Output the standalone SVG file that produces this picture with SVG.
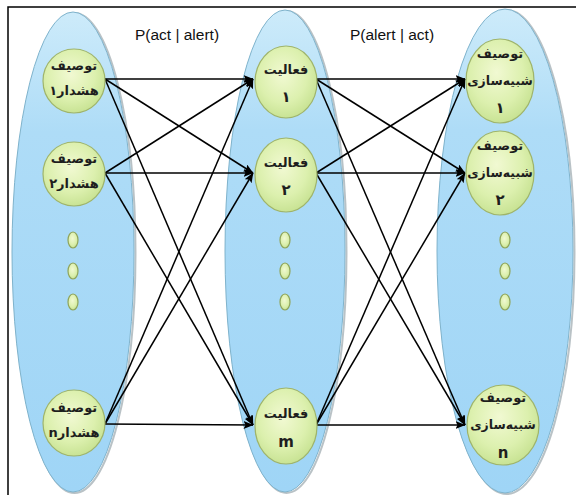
<svg xmlns="http://www.w3.org/2000/svg" width="576" height="495" viewBox="0 0 576 495">
  <defs>
    <linearGradient id="setFill" x1="0" y1="0" x2="0" y2="1">
      <stop offset="0" stop-color="#cdebfa"/>
      <stop offset="0.25" stop-color="#aedcf7"/>
      <stop offset="1" stop-color="#9fd5f6"/>
    </linearGradient>
    <radialGradient id="nodeFill" cx="0.45" cy="0.4" r="0.65">
      <stop offset="0" stop-color="#f1f9d2"/>
      <stop offset="0.6" stop-color="#dcf0ae"/>
      <stop offset="1" stop-color="#c4e08e"/>
    </radialGradient>
    <marker id="arrow" markerUnits="userSpaceOnUse" markerWidth="10" markerHeight="8" refX="9.5" refY="4" orient="auto">
      <path d="M0,0 L10,4 L0,8 L2,4 z" fill="#000"/>
    </marker>
    <style>
      .set { fill: url(#setFill); stroke: #7fb3cc; stroke-width: 1; }
      .shadow { fill: none; stroke: #8a9aa0; stroke-width: 2; opacity: 0.6; }
      .node { fill: url(#nodeFill); stroke: #9fb46a; stroke-width: 1.2; }
      .dot { fill: url(#nodeFill); stroke: #8fa45a; stroke-width: 1.2; }
      .edge { stroke: #000; stroke-width: 1.5; fill: none; marker-end: url(#arrow); }
      .fa { font-family: "DejaVu Sans", sans-serif; font-weight: bold; font-size: 13px; fill: #1e1e1e; text-anchor: middle; direction: rtl; unicode-bidi: embed; }
      .num { font-size: 15px; }
      .sm { font-size: 12.5px; }
      .prob { font-family: "Liberation Sans", Arial, sans-serif; font-size: 15.5px; fill: #111; text-anchor: middle; }
    </style>
  </defs>

  <!-- frame -->
  <rect x="8" y="7" width="590" height="510" fill="#fff" stroke="#000" stroke-width="1.5"/>

  <!-- the three sets -->
  <g id="set-alerts">
    <ellipse class="shadow" cx="74.5" cy="253" rx="61" ry="240"/>
    <ellipse class="set" cx="73" cy="252" rx="61" ry="240"/>
  </g>
  <g id="set-activities">
    <ellipse class="shadow" cx="286.5" cy="252" rx="60" ry="241"/>
    <ellipse class="set" cx="285" cy="251" rx="60" ry="241"/>
  </g>
  <g id="set-simulations">
    <ellipse class="shadow" cx="506.5" cy="252" rx="68" ry="242"/>
    <ellipse class="set" cx="505" cy="251" rx="68" ry="242"/>
  </g>

  <!-- probability labels -->
  <text class="prob" x="177" y="40">P(act | alert)</text>
  <text class="prob" x="392" y="40">P(alert | act)</text>

  <!-- connectors -->
  <g id="connectors">
    <line class="edge" x1="105" y1="79" x2="253" y2="79"/>
    <line class="edge" x1="105" y1="79" x2="253" y2="173"/>
    <line class="edge" x1="105" y1="79" x2="253" y2="425"/>
    <line class="edge" x1="105" y1="173" x2="253" y2="79"/>
    <line class="edge" x1="105" y1="173" x2="253" y2="173"/>
    <line class="edge" x1="105" y1="173" x2="253" y2="425"/>
    <line class="edge" x1="105" y1="424" x2="253" y2="79"/>
    <line class="edge" x1="105" y1="424" x2="253" y2="173"/>
    <line class="edge" x1="105" y1="424" x2="253" y2="425"/>

    <line class="edge" x1="316" y1="79" x2="465" y2="79"/>
    <line class="edge" x1="316" y1="79" x2="465" y2="173"/>
    <line class="edge" x1="316" y1="79" x2="465" y2="425"/>
    <line class="edge" x1="316" y1="173" x2="465" y2="79"/>
    <line class="edge" x1="316" y1="173" x2="465" y2="173"/>
    <line class="edge" x1="316" y1="173" x2="465" y2="425"/>
    <line class="edge" x1="316" y1="425" x2="465" y2="79"/>
    <line class="edge" x1="316" y1="425" x2="465" y2="173"/>
    <line class="edge" x1="316" y1="425" x2="465" y2="425"/>
  </g>

  <!-- alert descriptions -->
  <g id="alert-1">
    <ellipse class="node" cx="74" cy="81" rx="31" ry="32"/>
    <text class="fa" x="74" y="70">توصیف</text>
    <text class="fa" x="74" y="95">هشدار۱</text>
  </g>
  <g id="alert-2">
    <ellipse class="node" cx="74" cy="174" rx="31" ry="32"/>
    <text class="fa" x="74" y="163">توصیف</text>
    <text class="fa" x="74" y="188">هشدار۲</text>
  </g>
  <g id="alert-dots">
    <ellipse class="dot" cx="73" cy="240" rx="5" ry="8"/>
    <ellipse class="dot" cx="73" cy="271" rx="5" ry="8"/>
    <ellipse class="dot" cx="73" cy="302" rx="5" ry="8"/>
  </g>
  <g id="alert-n">
    <ellipse class="node" cx="74" cy="423" rx="31" ry="33"/>
    <text class="fa" x="74" y="412">توصیف</text>
    <text class="fa" x="74" y="437">هشدارn</text>
  </g>

  <!-- activities -->
  <g id="activity-1">
    <ellipse class="node" cx="286" cy="82" rx="31" ry="36"/>
    <text class="fa" x="286" y="74">فعالیت</text>
    <text class="fa num" x="286" y="102">۱</text>
  </g>
  <g id="activity-2">
    <ellipse class="node" cx="286" cy="175" rx="31" ry="37"/>
    <text class="fa" x="286" y="167">فعالیت</text>
    <text class="fa num" x="286" y="195">۲</text>
  </g>
  <g id="activity-dots">
    <ellipse class="dot" cx="285" cy="240" rx="5" ry="8"/>
    <ellipse class="dot" cx="285" cy="271" rx="5" ry="8"/>
    <ellipse class="dot" cx="285" cy="302" rx="5" ry="8"/>
  </g>
  <g id="activity-m">
    <ellipse class="node" cx="286" cy="426" rx="31" ry="38"/>
    <text class="fa" x="286" y="418">فعالیت</text>
    <text class="fa num" x="286" y="447">m</text>
  </g>

  <!-- simulation descriptions -->
  <g id="simulation-1">
    <ellipse class="node" cx="500" cy="81" rx="34" ry="42"/>
    <text class="fa" x="500" y="58">توصیف</text>
    <text class="fa sm" x="500" y="85">شبیه‌سازی</text>
    <text class="fa num" x="500" y="113">۱</text>
  </g>
  <g id="simulation-2">
    <ellipse class="node" cx="500" cy="173" rx="34" ry="42"/>
    <text class="fa" x="500" y="150">توصیف</text>
    <text class="fa sm" x="500" y="177">شبیه‌سازی</text>
    <text class="fa num" x="500" y="205">۲</text>
  </g>
  <g id="simulation-dots">
    <ellipse class="dot" cx="505" cy="240" rx="5" ry="8"/>
    <ellipse class="dot" cx="505" cy="271" rx="5" ry="8"/>
    <ellipse class="dot" cx="505" cy="302" rx="5" ry="8"/>
  </g>
  <g id="simulation-n">
    <ellipse class="node" cx="503" cy="425" rx="36" ry="40"/>
    <text class="fa" x="503" y="402">توصیف</text>
    <text class="fa sm" x="503" y="429">شبیه‌سازی</text>
    <text class="fa num" x="503" y="458">n</text>
  </g>
</svg>
